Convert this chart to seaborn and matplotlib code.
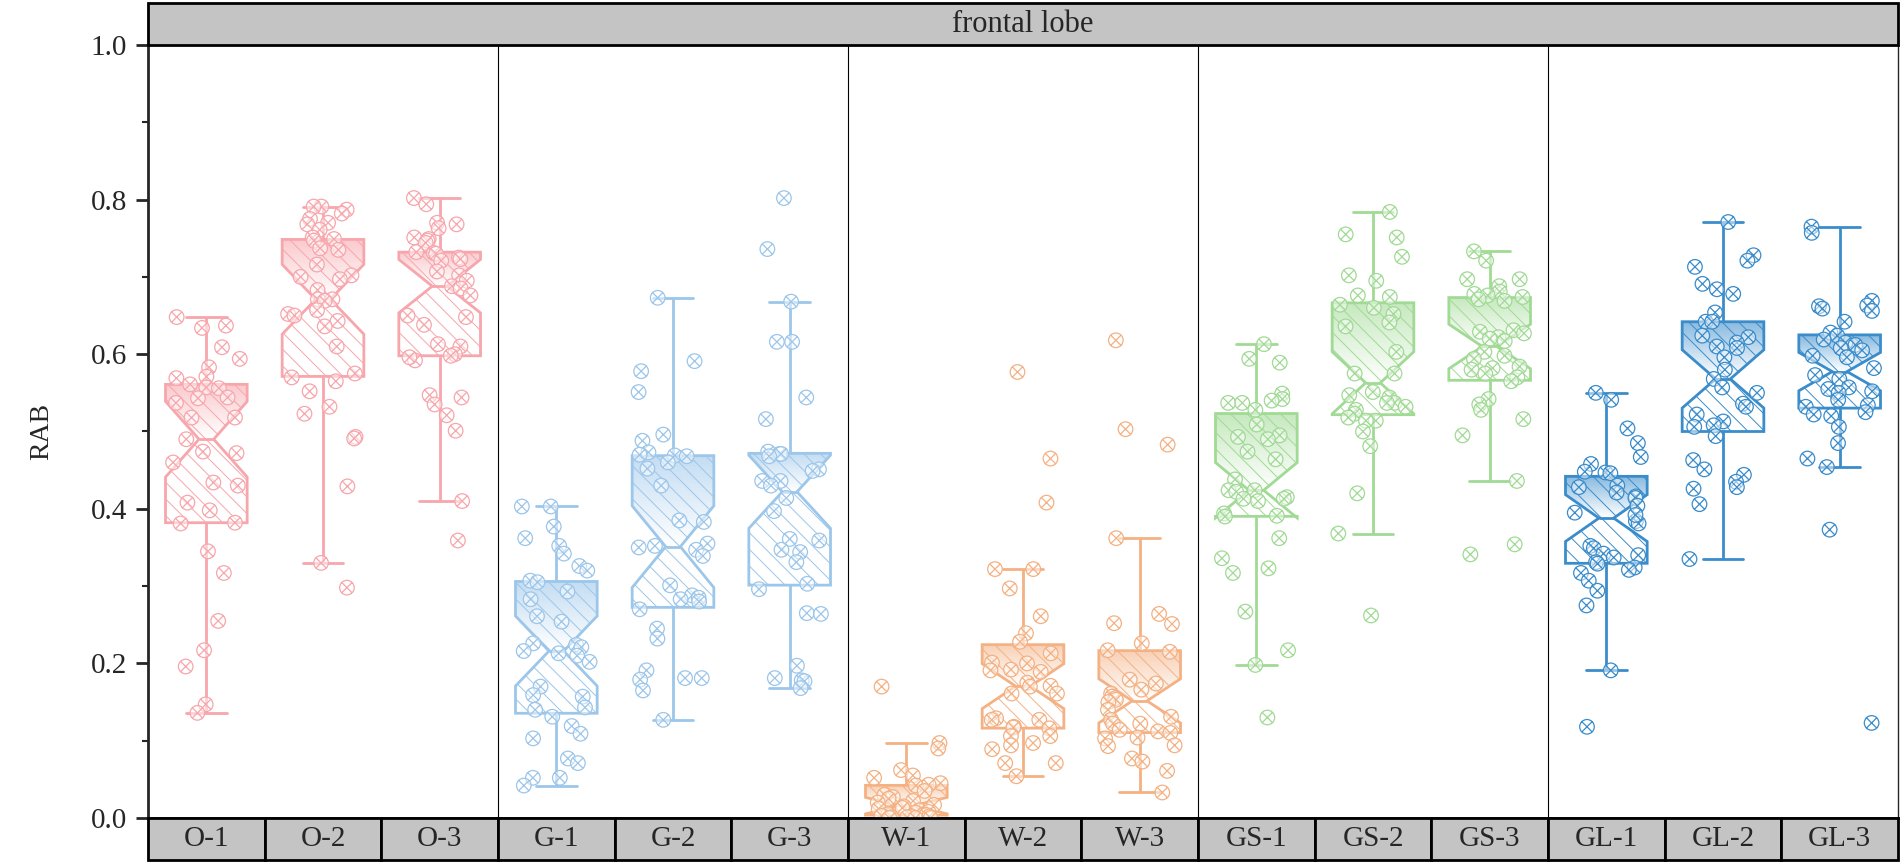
import numpy as np
import pandas as pd
import matplotlib
matplotlib.use("Agg")
import matplotlib.pyplot as plt
import seaborn as sns
from matplotlib.path import Path
from matplotlib.patches import Rectangle
from matplotlib.colors import LinearSegmentedColormap, to_rgb
from matplotlib.ticker import MultipleLocator, FormatStrFormatter

groups = ["O-1", "O-2", "O-3", "G-1", "G-2", "G-3", "W-1", "W-2", "W-3",
          "GS-1", "GS-2", "GS-3", "GL-1", "GL-2", "GL-3"]
family_colors = ["#F7A6AC", "#9CC6EA", "#F4B183", "#A0DA94", "#3A8CCB"]
colors = [c for c in family_colors for _ in range(3)]

o1 = [0.648, 0.637, 0.634, 0.609, 0.594, 0.583, 0.571, 0.569, 0.561, 0.557, 0.556, 0.544, 0.543,
      0.537, 0.518, 0.518, 0.490, 0.474, 0.472, 0.460, 0.434, 0.430, 0.408, 0.398, 0.382, 0.381,
      0.345, 0.317, 0.255, 0.217, 0.196, 0.147, 0.136]
o2 = [0.791, 0.791, 0.787, 0.782, 0.775, 0.770, 0.768, 0.761, 0.751, 0.749, 0.747, 0.737, 0.735,
      0.716, 0.702, 0.700, 0.697, 0.683, 0.671, 0.671, 0.669, 0.657, 0.652, 0.650, 0.643, 0.636,
      0.610, 0.575, 0.565, 0.570, 0.552, 0.532, 0.523, 0.493, 0.491, 0.429, 0.330, 0.298]
o3 = [0.802, 0.794, 0.770, 0.768, 0.763, 0.751, 0.749, 0.747, 0.744, 0.732, 0.731, 0.730, 0.725,
      0.723, 0.721, 0.707, 0.702, 0.695, 0.688, 0.685, 0.676, 0.650, 0.648, 0.638, 0.613, 0.610,
      0.600, 0.592, 0.598, 0.596, 0.547, 0.544, 0.535, 0.521, 0.501, 0.410, 0.359]
g1 = [0.403, 0.403, 0.377, 0.362, 0.352, 0.342, 0.326, 0.320, 0.307, 0.305, 0.293, 0.283, 0.261,
      0.254, 0.226, 0.224, 0.221, 0.216, 0.213, 0.210, 0.202, 0.170, 0.159, 0.157, 0.143, 0.140,
      0.131, 0.119, 0.109, 0.103, 0.077, 0.071, 0.052, 0.052, 0.042]
g2 = [0.673, 0.591, 0.578, 0.551, 0.496, 0.488, 0.473, 0.470, 0.469, 0.468, 0.460, 0.452, 0.430,
      0.385, 0.383, 0.355, 0.352, 0.350, 0.347, 0.339, 0.301, 0.288, 0.285, 0.283, 0.280, 0.270,
      0.245, 0.232, 0.191, 0.181, 0.179, 0.181, 0.165, 0.127]
g3 = [0.802, 0.736, 0.668, 0.616, 0.616, 0.544, 0.516, 0.474, 0.471, 0.471, 0.468, 0.451, 0.449,
      0.436, 0.436, 0.430, 0.414, 0.397, 0.361, 0.359, 0.347, 0.344, 0.331, 0.303, 0.296, 0.265,
      0.264, 0.197, 0.181, 0.178, 0.177, 0.168]
w1 = [0.170, 0.097, 0.090, 0.062, 0.055, 0.052, 0.045, 0.043, 0.042, 0.035, 0.030, 0.027, 0.025,
      0.022, 0.020, 0.017, 0.015, 0.013, 0.012, 0.010, 0.008, 0.007, 0.005, 0.004, 0.003, 0.002,
      0.002, 0.001, 0.001, 0.000, 0.000, 0.000]
w2 = [0.577, 0.465, 0.408, 0.322, 0.322, 0.297, 0.261, 0.239, 0.228, 0.213, 0.201, 0.200, 0.192,
      0.191, 0.189, 0.175, 0.171, 0.170, 0.161, 0.161, 0.129, 0.127, 0.127, 0.118, 0.117, 0.116,
      0.106, 0.106, 0.097, 0.094, 0.089, 0.071, 0.071, 0.054]
w3 = [0.618, 0.503, 0.483, 0.362, 0.264, 0.252, 0.251, 0.226, 0.217, 0.215, 0.179, 0.174, 0.166,
      0.161, 0.157, 0.155, 0.153, 0.150, 0.140, 0.131, 0.127, 0.122, 0.122, 0.114, 0.112, 0.110,
      0.104, 0.103, 0.094, 0.093, 0.077, 0.073, 0.061, 0.033]
gs1 = [0.613, 0.594, 0.589, 0.549, 0.542, 0.540, 0.537, 0.537, 0.528, 0.509, 0.495, 0.493, 0.490,
       0.474, 0.464, 0.438, 0.424, 0.424, 0.422, 0.415, 0.413, 0.413, 0.410, 0.394, 0.391, 0.390,
       0.362, 0.336, 0.323, 0.317, 0.267, 0.217, 0.198, 0.130]
gs2 = [0.784, 0.755, 0.751, 0.726, 0.702, 0.695, 0.676, 0.674, 0.664, 0.660, 0.652, 0.641, 0.636,
       0.603, 0.575, 0.575, 0.551, 0.547, 0.544, 0.537, 0.537, 0.532, 0.528, 0.523, 0.518, 0.514,
       0.514, 0.500, 0.481, 0.420, 0.368, 0.262]
gs3 = [0.733, 0.721, 0.697, 0.697, 0.688, 0.681, 0.678, 0.676, 0.674, 0.671, 0.669, 0.631, 0.629,
       0.627, 0.622, 0.620, 0.617, 0.603, 0.598, 0.594, 0.584, 0.582, 0.580, 0.575, 0.570, 0.565,
       0.542, 0.535, 0.528, 0.516, 0.495, 0.436, 0.354, 0.341]
gl1 = [0.550, 0.541, 0.504, 0.485, 0.467, 0.458, 0.448, 0.447, 0.446, 0.430, 0.428, 0.421, 0.416,
       0.414, 0.404, 0.384, 0.381, 0.395, 0.392, 0.352, 0.349, 0.342, 0.340, 0.337, 0.331, 0.329,
       0.324, 0.321, 0.317, 0.307, 0.294, 0.275, 0.191, 0.118]
gl2 = [0.771, 0.728, 0.721, 0.713, 0.691, 0.684, 0.678, 0.654, 0.642, 0.642, 0.624, 0.622, 0.615,
       0.610, 0.608, 0.596, 0.580, 0.568, 0.557, 0.550, 0.536, 0.532, 0.522, 0.513, 0.508, 0.506,
       0.494, 0.463, 0.451, 0.444, 0.435, 0.428, 0.426, 0.406, 0.335]
gl3 = [0.765, 0.757, 0.669, 0.663, 0.662, 0.659, 0.656, 0.642, 0.628, 0.624, 0.619, 0.615, 0.612,
       0.608, 0.605, 0.598, 0.596, 0.582, 0.573, 0.568, 0.557, 0.555, 0.552, 0.550, 0.541, 0.534,
       0.532, 0.525, 0.522, 0.520, 0.506, 0.485, 0.465, 0.454, 0.373, 0.123]

series = [o1, o2, o3, g1, g2, g3, w1, w2, w3, gs1, gs2, gs3, gl1, gl2, gl3]
df = pd.DataFrame([(g, v) for g, vals in zip(groups, series) for v in vals], columns=["group", "RAB"])

sns.set_style("ticks")
plt.rcParams["font.family"] = ["Liberation Serif", "DejaVu Serif"]
plt.rcParams["hatch.linewidth"] = 0.7

fig = plt.figure(figsize=(19.02, 8.63), dpi=100)
ax = fig.add_axes([148 / 1902, 45 / 863, 1750 / 1902, 773 / 863])

sns.boxplot(data=df, x="group", y="RAB", hue="group", order=groups, hue_order=groups,
            palette=colors, saturation=1, notch=True, width=0.7, linewidth=2,
            showfliers=False, legend=False, ax=ax)

# restyle boxes: hatched outline, gradient in the upper half, narrow notch waist
boxes = sorted(ax.patches, key=lambda p: p.get_path().vertices[:, 0].mean())
for i, patch in enumerate(boxes):
    col = colors[i]
    q1, med, q3 = np.percentile(series[i], [25, 50, 75])
    path = patch.get_path()
    verts = path.vertices.copy()
    x0, x1 = verts[:, 0].min(), verts[:, 0].max()
    pos, half = (x0 + x1) / 2, (x1 - x0) / 2
    waist = np.isclose(verts[:, 1], med) & (np.abs(verts[:, 0] - pos) < half * 0.9)
    verts[waist, 0] = pos + np.sign(verts[waist, 0] - pos) * half * 0.18
    patch.set_path(Path(verts, path.codes))
    patch.set_facecolor("none")
    patch.set_edgecolor(col)
    patch.set_hatch("\\\\")
    patch.set_linewidth(2)
    light = 0.6 * np.array(to_rgb(col)) + 0.4
    cmap = LinearSegmentedColormap.from_list(f"g{i}", ["white", light])
    im = ax.imshow(np.linspace(0, 1, 64).reshape(-1, 1), cmap=cmap, extent=(x0, x1, med, q3),
                   origin="lower", aspect="auto", interpolation="bilinear",
                   zorder=patch.get_zorder() - 0.05)
    im.set_clip_path(patch)

for line in ax.lines:
    xd, yd = np.asarray(line.get_xdata(), float), np.asarray(line.get_ydata(), float)
    i = int(round(xd.mean()))
    line.set_color(colors[i])
    med = np.median(series[i])
    if len(yd) == 2 and np.isclose(yd[0], yd[1]) and np.isclose(yd[0], med):
        line.set_xdata([i - 0.35 * 0.18, i + 0.35 * 0.18])

n_before = len(ax.collections)
marker = Path.make_compound_path(
    Path.unit_circle(),
    Path([(-0.72, -0.72), (0.72, 0.72)], [Path.MOVETO, Path.LINETO]),
    Path([(-0.72, 0.72), (0.72, -0.72)], [Path.MOVETO, Path.LINETO]),
)
np.random.seed(7)
sns.stripplot(data=df, x="group", y="RAB", hue="group", order=groups, hue_order=groups,
              palette=colors, jitter=0.3, size=10.5, marker=marker, linewidth=0.9,
              legend=False, ax=ax, zorder=5)
for coll in ax.collections[n_before:]:
    fc = coll.get_facecolor()
    coll.set_edgecolor(fc)
    coll.set_facecolor((1, 1, 1, 0.5))

ax.set_xlim(-0.5, len(groups) - 0.5)
ax.set_ylim(0, 1.0)

for b in [2.5, 5.5, 8.5, 11.5]:
    ax.axvline(b, color="black", lw=0.8, zorder=0.5)

# strips
sh = 42 / 773
trans = ax.get_xaxis_transform()
for i, g in enumerate(groups):
    ax.add_patch(Rectangle((i - 0.5, -sh), 1, sh, transform=trans, facecolor="#C4C4C4",
                           edgecolor="black", lw=2, clip_on=False, zorder=6))
    ax.text(i, -sh / 2, g, transform=trans, ha="center", va="center", fontsize=21,
            zorder=7, clip_on=False)
ax.add_patch(Rectangle((0, 1), 1, sh, transform=ax.transAxes, facecolor="#C4C4C4",
                       edgecolor="black", lw=2, clip_on=False, zorder=6))
ax.text(0.5, 1 + sh / 2, "frontal lobe", transform=ax.transAxes, ha="center", va="center",
        fontsize=22, zorder=7)

ax.set_xticks([])
ax.set_xlabel("")
ax.yaxis.set_major_locator(MultipleLocator(0.2))
ax.yaxis.set_minor_locator(MultipleLocator(0.1))
ax.yaxis.set_major_formatter(FormatStrFormatter("%.1f"))
ax.tick_params(axis="y", which="major", length=9, width=2, labelsize=21, pad=6)
ax.tick_params(axis="y", which="minor", length=4.5, width=1.5)
ax.set_ylabel("RAB", fontsize=20, labelpad=26)
ax.spines["left"].set_linewidth(2)
ax.spines["bottom"].set_linewidth(2)
ax.spines["right"].set_linewidth(1)
ax.spines["top"].set_visible(False)

fig.savefig("out.png", dpi=100)
